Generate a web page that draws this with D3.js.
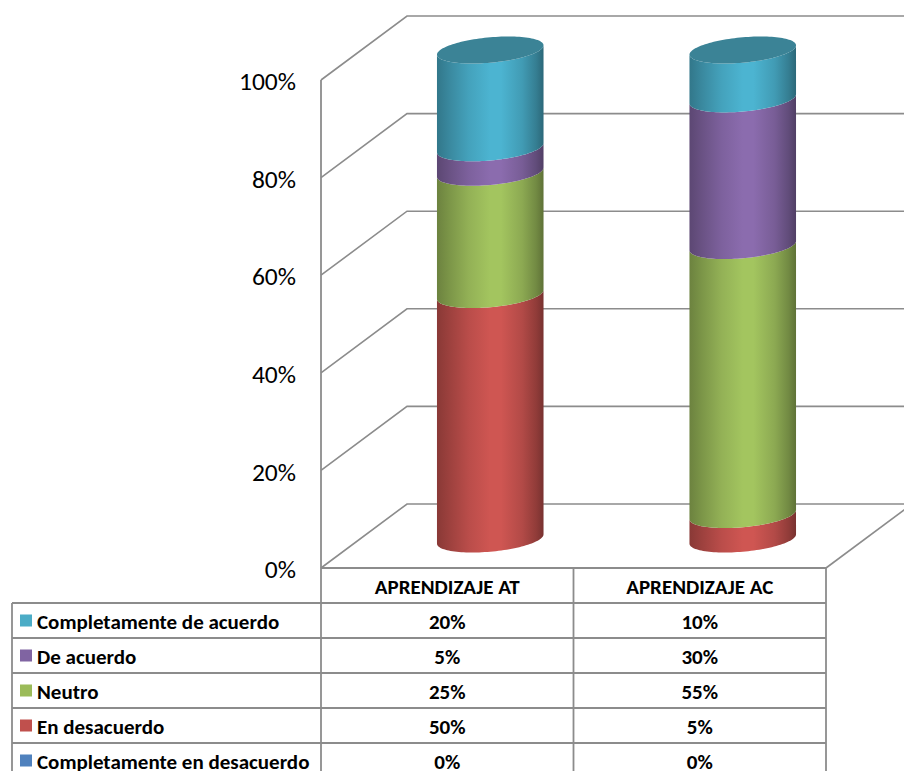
<!DOCTYPE html>
<html>
<head>
<meta charset="utf-8">
<script src="https://cdn.jsdelivr.net/npm/d3@7/dist/d3.min.js"></script>
<style>
  html, body { margin: 0; padding: 0; background: #fff; }
  svg { display: block; }
  text { font-family: Carlito, Lato, "Open Sans", sans-serif; fill: #000; }
</style>
</head>
<body>
<svg id="chart" width="904" height="771"></svg>
<script>
// ---------- data ----------
const categories = ["APRENDIZAJE AT", "APRENDIZAJE AC"];
// stacking order, bottom to top
const seriesNames = ["Completamente en desacuerdo", "En desacuerdo", "Neutro", "De acuerdo", "Completamente de acuerdo"];
const valuesAT = [0, 50, 25, 5, 20];
const valuesAC = [0, 5, 55, 30, 10];
const yTicks = [0, 20, 40, 60, 80, 100];

// ---------- styles ----------
const keyColors  = ["#4F81BD", "#C0504D", "#9BBB59", "#8064A2", "#4BACC6"];
const lightColors = ["#5b8fce", "#cf5652", "#a3c55f", "#8b6cae", "#4cb4d1"];
const topColors   = ["#3d6590", "#8e3b39", "#728a42", "#5e4a78", "#3b8396"];
const gridColor = "#8c8c8c";

const svg = d3.select("#chart");
const W = 904, H = 771;

// ---------- layout ----------
const plotLeft = 321, plotRight = 826;
const floorY = 568, topY = 80;
const depthX = 86, depthY = -64;
const headerH = 35, rowH = 35, tableLeft = 12;

const x = d3.scaleBand().domain(categories).range([plotLeft, plotRight]);
const yFront = d3.scaleLinear().domain([0, 100]).range([floorY, topY]);
const yBar = d3.scaleLinear().domain([0, 100]).range([539, 50]);

const rx = x.bandwidth() * 0.211;
const ry = 12.7;
const slope = -0.087;

// ---------- gradients ----------
const defs = svg.append("defs");
lightColors.forEach((c, i) => {
  const base = d3.color(c);
  const g = defs.append("linearGradient").attr("id", "grad" + i)
    .attr("x1", "0").attr("x2", "1").attr("y1", "0").attr("y2", "0");
  const stops = [[0, 0.66], [0.12, 0.76], [0.3, 0.9], [0.5, 1.0], [0.6, 1.0], [0.8, 0.86], [0.93, 0.7], [1, 0.58]];
  stops.forEach(([o, k]) => {
    const col = d3.rgb(base.r * k, base.g * k, base.b * k);
    g.append("stop").attr("offset", o).attr("stop-color", col.formatHex());
  });
});

// ---------- walls & gridlines ----------
const grid = svg.append("g").attr("stroke", gridColor).attr("stroke-width", 1.6).attr("fill", "none");
yTicks.forEach(t => {
  const yf = yFront(t);
  grid.append("path")
    .attr("d", `M${plotLeft},${yf} L${plotLeft + depthX},${yf + depthY} L${W + 20},${yf + depthY}`);
});
// floor right edge
grid.append("line")
  .attr("x1", plotRight).attr("y1", floorY)
  .attr("x2", plotRight + depthX).attr("y2", floorY + depthY);

// ---------- axis labels ----------
svg.append("g").selectAll("text").data(yTicks).join("text")
  .attr("x", 296).attr("y", d => yFront(d) + 1).attr("dy", "0.36em")
  .attr("text-anchor", "end").attr("font-size", 25.5)
  .text(d => d + "%");

// ---------- cylinders ----------
function pt(cx, cy, t) {
  return [cx + rx * Math.cos(t), cy + ry * Math.sin(t) + slope * rx * Math.cos(t)];
}
function arc(cx, cy, t0, t1, n) {
  const pts = [];
  for (let i = 0; i <= n; i++) {
    const t = t0 + (t1 - t0) * i / n;
    pts.push(pt(cx, cy, t));
  }
  return pts;
}
function bodyPath(cx, yTop, yBot) {
  const top = arc(cx, yTop, 0, Math.PI, 60);
  const bot = arc(cx, yBot, Math.PI, 0, 60);
  const all = top.concat(bot);
  return "M" + all.map(p => p[0].toFixed(2) + "," + p[1].toFixed(2)).join("L") + "Z";
}
function ellipsePath(cx, cy) {
  const pts = arc(cx, cy, 0, 2 * Math.PI, 120);
  return "M" + pts.map(p => p[0].toFixed(2) + "," + p[1].toFixed(2)).join("L") + "Z";
}

const barData = [valuesAT, valuesAC];
const bars = svg.append("g");
categories.forEach((cat, ci) => {
  const cx = x(cat) + x.bandwidth() / 2 + depthX / 2;
  const vals = barData[ci];
  let acc = 0;
  let lastIdx = -1;
  vals.forEach((v, si) => {
    if (v <= 0) { return; }
    const y0 = yBar(acc), y1 = yBar(acc + v);
    bars.append("path").attr("d", bodyPath(cx, y1, y0))
      .attr("fill", `url(#grad${si})`);
    acc += v;
    lastIdx = si;
  });
  if (lastIdx >= 0) {
    bars.append("path").attr("d", ellipsePath(cx, yBar(acc)))
      .attr("fill", topColors[lastIdx]);
  }
});

// ---------- data table ----------
const displayOrder = seriesNames.slice().reverse();
const rows = d3.scaleBand().domain(displayOrder).range([floorY + headerH, floorY + headerH + rowH * displayOrder.length]);

const tbl = svg.append("g");
const lines = tbl.append("g").attr("stroke", gridColor).attr("stroke-width", 1.8).attr("fill", "none");
// header cells
lines.append("line").attr("x1", plotLeft).attr("x2", plotRight).attr("y1", floorY).attr("y2", floorY);
// row horizontal lines
displayOrder.forEach(s => {
  lines.append("line").attr("x1", tableLeft).attr("x2", plotRight)
    .attr("y1", rows(s)).attr("y2", rows(s));
});
lines.append("line").attr("x1", tableLeft).attr("x2", plotRight)
  .attr("y1", rows.range()[1]).attr("y2", rows.range()[1]);
// verticals
lines.append("line").attr("x1", tableLeft).attr("x2", tableLeft).attr("y1", rows.range()[0]).attr("y2", rows.range()[1]);
lines.append("line").attr("x1", plotLeft).attr("x2", plotLeft).attr("y1", topY).attr("y2", rows.range()[1]);
categories.forEach(c => {
  const xr = x(c) + x.bandwidth();
  lines.append("line").attr("x1", xr).attr("x2", xr).attr("y1", floorY).attr("y2", rows.range()[1]);
});

// header text
tbl.append("g").selectAll("text").data(categories).join("text")
  .attr("x", d => x(d) + x.bandwidth() / 2)
  .attr("y", floorY + headerH / 2 + 1).attr("dy", "0.36em")
  .attr("text-anchor", "middle").attr("font-weight", "bold").attr("font-size", 21)
  .text(d => d);

// legend keys & labels
displayOrder.forEach(s => {
  const si = seriesNames.indexOf(s);
  const cy = rows(s) + rows.bandwidth() / 2;
  tbl.append("rect").attr("x", 20).attr("y", cy - 6).attr("width", 12).attr("height", 12)
    .attr("fill", keyColors[si]);
  tbl.append("text").attr("x", 37).attr("y", cy + 1).attr("dy", "0.35em")
    .attr("font-weight", "bold").attr("font-size", 21).text(s);
  categories.forEach((c, ci) => {
    tbl.append("text").attr("x", x(c) + x.bandwidth() / 2).attr("y", cy + 1).attr("dy", "0.35em")
      .attr("text-anchor", "middle").attr("font-weight", "bold").attr("font-size", 21)
      .text(barData[ci][si] + "%");
  });
});
</script>
</body>
</html>
